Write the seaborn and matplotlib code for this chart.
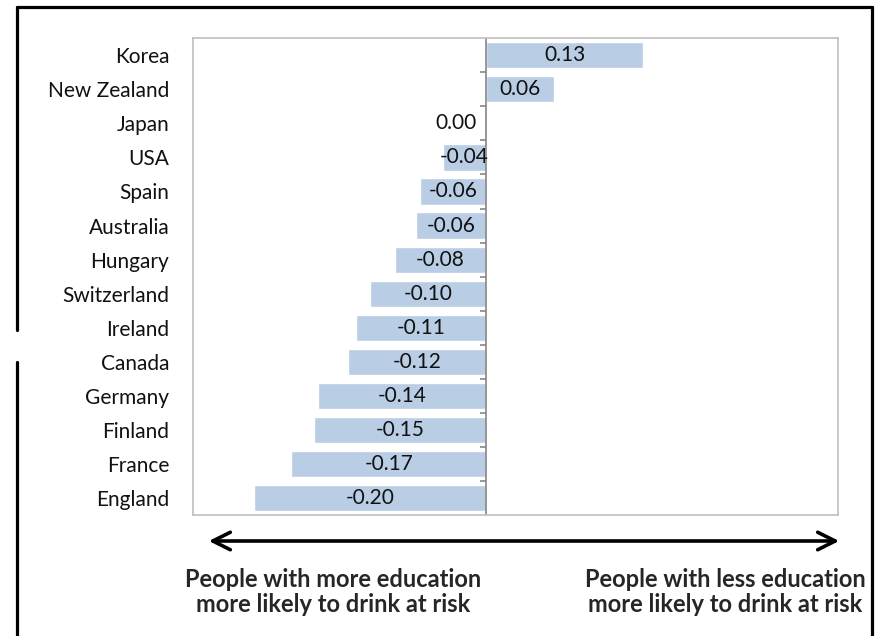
import numpy as np
import pandas as pd
import matplotlib
matplotlib.use('Agg')
import matplotlib.pyplot as plt
import seaborn as sns
from matplotlib.lines import Line2D

countries = ['Korea', 'New Zealand', 'Japan', 'USA', 'Spain', 'Australia', 'Hungary',
             'Switzerland', 'Ireland', 'Canada', 'Germany', 'Finland', 'France', 'England']
values = [0.134, 0.058, -0.002, -0.037, -0.056, -0.060, -0.078,
          -0.099, -0.111, -0.118, -0.143, -0.147, -0.166, -0.198]
left_note = 'People with more education\nmore likely to drink at risk'
right_note = 'People with less education\nmore likely to drink at risk'

df = pd.DataFrame({'country': countries, 'value': values})

sns.set_style('white')
plt.rcParams['font.family'] = ['Lato', 'DejaVu Sans']

fig = plt.figure(figsize=(8.81, 6.36), dpi=100)
ax = fig.add_axes([0.219, 0.190, 0.732, 0.750])
sns.barplot(data=df, x='value', y='country', orient='h', color='#B9CDE5',
            saturation=1, width=0.77, ax=ax)

ax.set_xlim(-0.25, 0.30)
ax.set_ylim(13.5, -0.5)
ax.set_xlabel('')
ax.set_ylabel('')
ax.set_xticks([])
ax.tick_params(axis='y', length=0, pad=17, labelsize=15, labelcolor='#111111')
for s in ax.spines.values():
    s.set_color('#BEBEBE')
    s.set_linewidth(1.2)

# zero line with small ticks
ax.axvline(0, color='#868686', lw=1.2)
ax.hlines(np.arange(len(countries) - 1) + 0.5, -0.005, 0, color='#868686', lw=1.2)

for i, v in enumerate(values):
    if abs(v) < 0.01:
        ax.text(-0.008, i, f'{v:.2f}'.replace('-0.00', '0.00'), ha='right', va='center',
                fontsize=15, color='#111111')
    else:
        ax.text(v / 2, i, f'{v:.2f}', ha='center', va='center', fontsize=15, color='#111111')

# double-headed arrow below the chart
fig.add_artist(matplotlib.patches.FancyArrowPatch(
    (206 / 881, 1 - 541 / 636), (842 / 881, 1 - 541 / 636),
    transform=fig.transFigure, arrowstyle='<->,head_length=0.9,head_width=0.45',
    lw=2.6, color='black', mutation_scale=14))

fig.text(333 / 881, 1 - 592 / 636, left_note, ha='center', va='center',
         fontsize=17, fontweight='bold', linespacing=1.15)
fig.text(866 / 881, 1 - 592 / 636, right_note, ha='right', va='center',
         fontsize=17, fontweight='bold', linespacing=1.15, multialignment='center')

# outer frame
W, H = 881, 636
def seg(x0, y0, x1, y1):
    fig.add_artist(Line2D([x0 / W, x1 / W], [1 - y0 / H, 1 - y1 / H],
                          transform=fig.transFigure, color='black', lw=2.3))
seg(17, 7, 872, 7)
seg(872, 7, 872, 640)
seg(17, 7, 17, 330)
seg(17, 362, 17, 640)

fig.savefig('out.png', dpi=100)
